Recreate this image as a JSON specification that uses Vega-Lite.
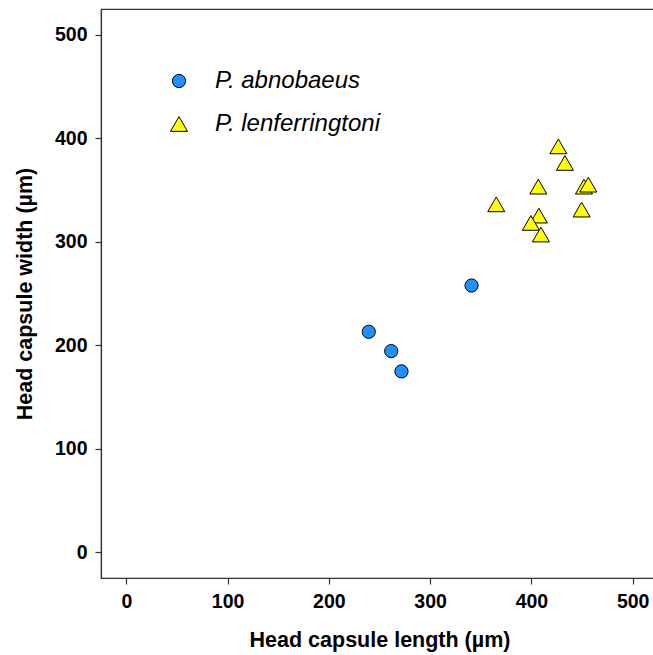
{
  "$schema": "https://vega.github.io/schema/vega-lite/v6.json",
  "autosize": {"type": "none"},
  "width": 557,
  "height": 569,
  "padding": {"left": 101, "top": 9, "right": 0, "bottom": 77},
  "background": "white",
  "config": {
    "font": "Liberation Sans",
    "view": {"stroke": "#333333", "strokeWidth": 1.2},
    "axis": {
      "grid": false,
      "domainColor": "#333333",
      "domainWidth": 1.2,
      "tickColor": "#333333",
      "tickWidth": 1.2,
      "tickSize": 6,
      "labelFont": "Liberation Sans",
      "labelFontSize": 19.5,
      "labelFontWeight": "bold",
      "labelColor": "black",
      "titleFont": "Liberation Sans",
      "titleFontSize": 21.5,
      "titleFontWeight": "bold",
      "titleColor": "black"
    }
  },
  "data": {
    "values": [
      {"length": 239.4, "width": 213.0, "species": "P. abnobaeus"},
      {"length": 261.6, "width": 194.3, "species": "P. abnobaeus"},
      {"length": 271.7, "width": 174.7, "species": "P. abnobaeus"},
      {"length": 340.9, "width": 257.7, "species": "P. abnobaeus"},
      {"length": 426.6, "width": 392.2, "species": "P. lenferringtoni"},
      {"length": 433.1, "width": 376.2, "species": "P. lenferringtoni"},
      {"length": 406.8, "width": 353.3, "species": "P. lenferringtoni"},
      {"length": 365.3, "width": 336.2, "species": "P. lenferringtoni"},
      {"length": 449.6, "width": 331.1, "species": "P. lenferringtoni"},
      {"length": 451.9, "width": 353.3, "species": "P. lenferringtoni"},
      {"length": 456.2, "width": 355.2, "species": "P. lenferringtoni"},
      {"length": 407.4, "width": 325.3, "species": "P. lenferringtoni"},
      {"length": 399.5, "width": 318.2, "species": "P. lenferringtoni"},
      {"length": 409.4, "width": 307.0, "species": "P. lenferringtoni"}
    ]
  },
  "mark": {"type": "point", "filled": true, "stroke": "black", "strokeWidth": 1, "opacity": 1},
  "encoding": {
    "x": {
      "field": "length", "type": "quantitative",
      "title": "Head capsule length (µm)",
      "scale": {"domain": [-25, 525], "nice": false, "zero": false},
      "axis": {"values": [0, 100, 200, 300, 400, 500], "labelPadding": 8, "titlePadding": 19}
    },
    "y": {
      "field": "width", "type": "quantitative",
      "title": "Head capsule width (µm)",
      "scale": {"domain": [-25, 525], "nice": false, "zero": false},
      "axis": {"values": [0, 100, 200, 300, 400, 500], "labelPadding": 8, "titlePadding": 18}
    },
    "color": {
      "field": "species", "type": "nominal",
      "scale": {"domain": ["P. abnobaeus", "P. lenferringtoni"], "range": ["#1E90FF", "#FFFF00"]},
      "legend": {
        "title": null, "orient": "none", "legendX": 66, "legendY": 60,
        "labelFont": "Liberation Sans", "labelFontSize": 24, "labelFontStyle": "italic",
        "labelColor": "black", "labelLimit": 0, "rowPadding": 19, "labelOffset": 24,
        "symbolStrokeColor": "black", "symbolStrokeWidth": 1
      }
    },
    "shape": {
      "field": "species", "type": "nominal",
      "scale": {"domain": ["P. abnobaeus", "P. lenferringtoni"], "range": ["circle", "triangle-up"]}
    },
    "size": {
      "field": "species", "type": "nominal",
      "scale": {"domain": ["P. abnobaeus", "P. lenferringtoni"], "range": [175, 290]}
    }
  }
}
